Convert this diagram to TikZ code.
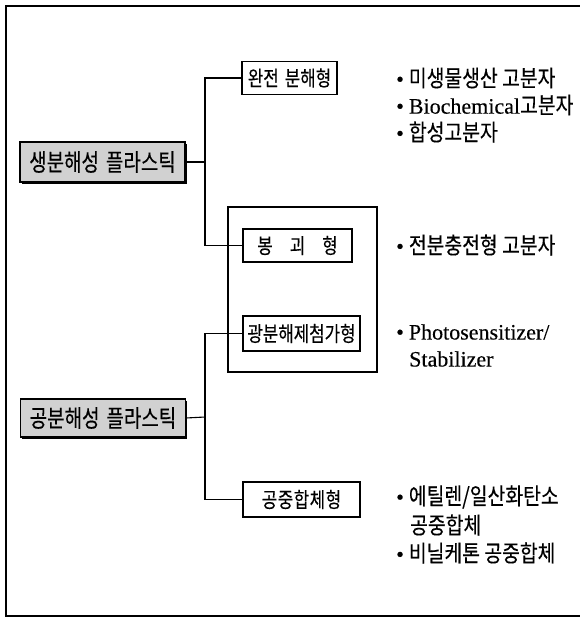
\documentclass[tikz,border=0pt]{standalone}
\usepackage{fontspec}
\setmainfont{Liberation Serif}[FakeBold=0.25]
\newfontfamily\krb[FakeStretch=0.8,FakeBold=0.3]{Noto Sans CJK KR}
\newfontfamily\krm[FakeStretch=0.79,FakeBold=0.3]{Noto Sans CJK KR}
\newfontfamily\krl[FakeStretch=0.84,FakeBold=0.3]{Noto Sans CJK KR}
\newcommand{\korean}[1]{{\krl\fontsize{23}{25}\selectfont #1}}
\tikzset{
  mainbox/.style={draw, line width=1.1pt, fill=black!18, minimum width=165pt, minimum height=40pt, inner sep=0pt,
    font=\krm\fontsize{24}{26}\selectfont,
    preaction={fill=black, transform canvas={shift={(1.8pt,-1.8pt)}}}},
  subbox/.style={draw, line width=1.1pt, fill=white, inner sep=0pt, minimum height=33pt,
    font=\krb\fontsize{21}{23}\selectfont},
  grpbox/.style={draw, line width=1.1pt, inner sep=0pt},
  conn/.style={line width=1.1pt},
  item/.style={anchor=west, inner sep=0pt, font=\fontsize{22}{24}\selectfont},
  frame/.style={line width=1.6pt}
}
\begin{document}
\begin{tikzpicture}[x=1pt,y=-1pt]
\useasboundingbox (0,0) rectangle (580,618);
\draw[frame] (582,6) -- (6,6) -- (6,616) -- (582,616);

\node[grpbox, minimum width=149pt, minimum height=165pt] (grp) at (302.5,289.5) {};

\node[mainbox] (bio) at (102.5,162) {생분해성\hspace{7pt}플라스틱};
\node[mainbox, minimum height=38pt] (pho) at (103,418) {공분해성\hspace{7pt}플라스틱};

\node[subbox, minimum width=95pt] (full) at (289.5,78) {완전\hspace{6pt}분해형};
\node[subbox, minimum width=109pt] (coll) at (297.5,245.5) {봉\hspace{17pt}괴\hspace{17pt}형};
\node[subbox, minimum width=117pt, minimum height=35pt] (add) at (301.5,333.5) {광분해제첨가형};
\node[subbox, minimum width=117pt, minimum height=35pt] (copo) at (301.5,499.5) {공\hspace{0.5pt}중\hspace{0.5pt}합\hspace{0.5pt}체\hspace{0.5pt}형};

\coordinate (j1) at (205,162);
\coordinate (j2) at (205,417);
\draw[conn] (bio.east) -- (j1);
\draw[conn] (full.west) -| (j1) |- (coll.west);
\draw[conn] (pho.east) -- (j2);
\draw[conn] (add.west) -| (j2) |- (copo.west);

\node[item] (i1) at (396,78) {\textbullet\hspace{5pt}\korean{미생물생산 고분자}};
\node[item] (i2) at (396,105) {\textbullet\hspace{5pt}Biochemical\korean{고분자}};
\node[item] (i3) at (396,132) {\textbullet\hspace{5pt}\korean{합성고분자}};
\node[item] (i4) at (396,245) {\textbullet\hspace{5pt}\korean{전분충전형 고분자}};
\node[item] (i5) at (396,332) {\textbullet\hspace{5pt}Photosensitizer/};
\node[item] (i6) at (409,359) {Stabilizer};
\node[item] (i7) at (396,497) {\textbullet\hspace{5pt}\korean{에틸렌/일산화탄소}};
\node[item] (i8) at (410,525) {\korean{공중합체}};
\node[item] (i9) at (396,553) {\textbullet\hspace{5pt}\korean{비닐케톤 공중합체}};
\end{tikzpicture}
\end{document}
